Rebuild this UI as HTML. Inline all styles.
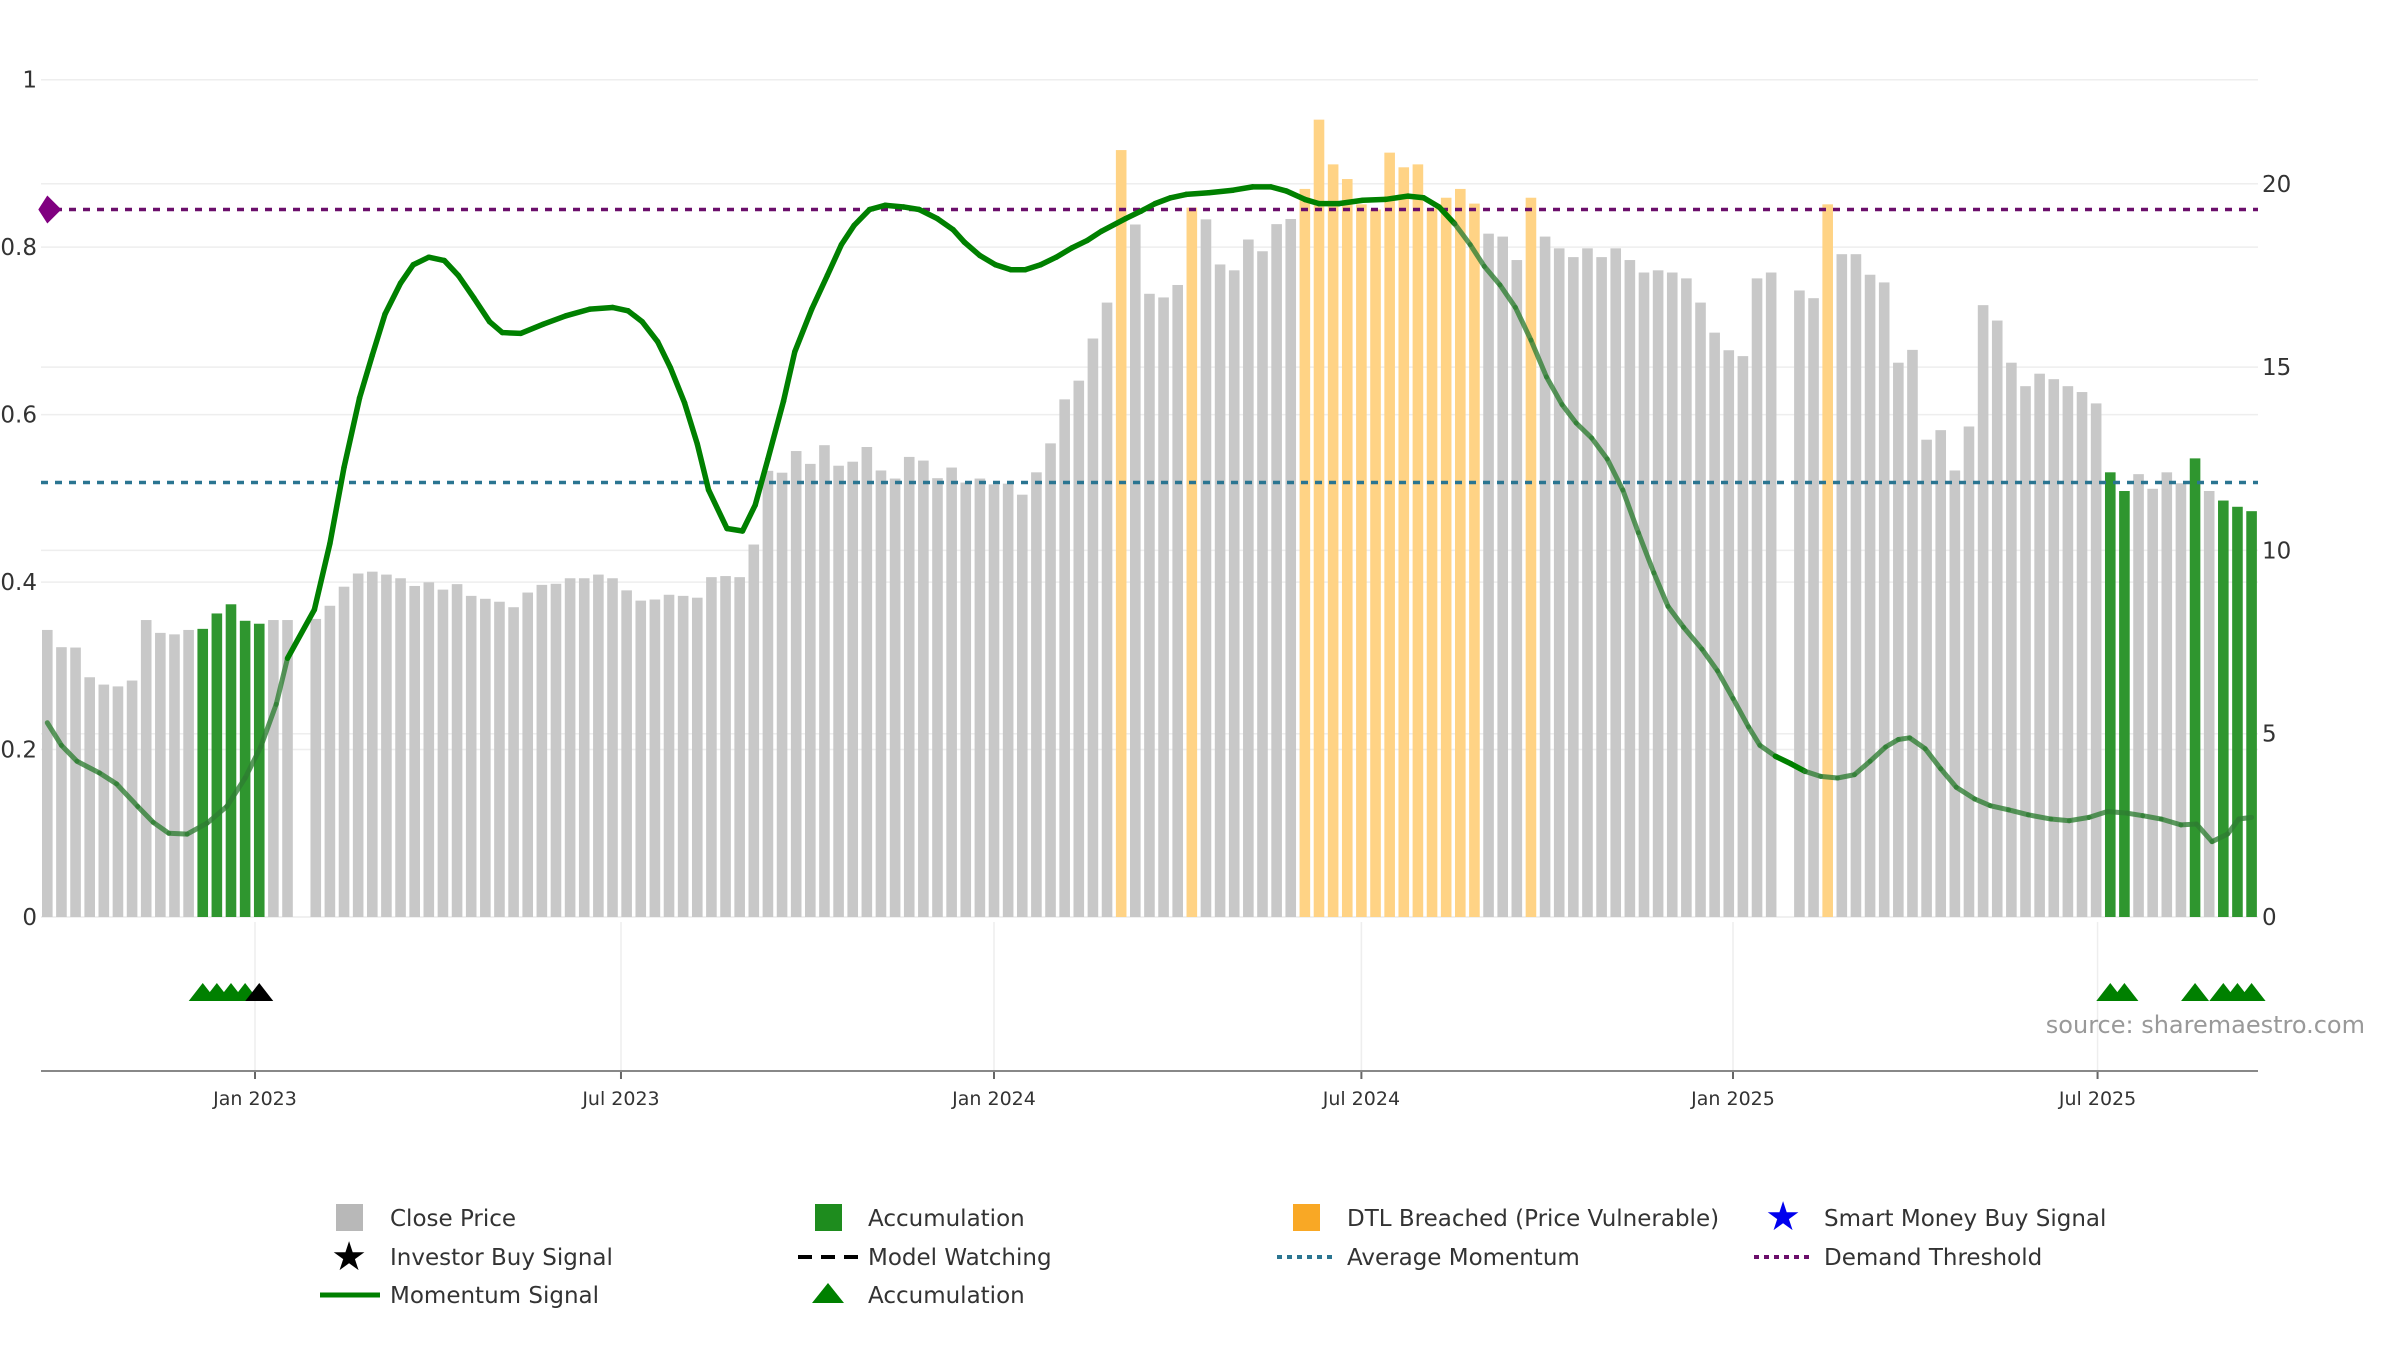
<!DOCTYPE html>
<html><head><meta charset="utf-8"><style>
html,body{margin:0;padding:0;background:#fff;}
svg{display:block;font-family:"DejaVu Sans","Liberation Sans",sans-serif;}
</style></head><body>
<svg id="chart" width="2400" height="1350" viewBox="0 0 2400 1350" xmlns="http://www.w3.org/2000/svg"></svg>
<script>
// ---- data ----
const closePrice = [7.83,7.36,7.35,6.54,6.34,6.29,6.45,8.10,7.75,7.71,7.83,7.86,8.28,8.53,8.08,8.00,8.10,8.10,null,8.13,
8.49,9.01,9.37,9.42,9.34,9.24,9.03,9.13,8.93,9.08,8.76,8.68,8.60,8.45,8.85,9.06,9.09,9.24,9.24,9.34,
9.24,8.91,8.63,8.66,8.79,8.76,8.71,9.27,9.30,9.27,10.16,12.17,12.12,12.71,12.36,12.87,12.31,12.42,12.82,12.18,
11.96,12.55,12.45,11.97,12.26,11.85,11.96,11.80,11.82,11.52,12.13,12.92,14.12,14.63,15.78,16.76,20.92,18.89,17.0,16.9,
17.24,19.35,19.03,17.8,17.64,18.48,18.16,18.90,19.04,19.86,21.75,20.53,20.13,19.44,19.30,20.85,20.45,20.53,19.33,19.62,
19.86,19.46,18.64,18.56,17.92,19.62,18.56,18.24,18.0,18.24,18.0,18.24,17.92,17.58,17.64,17.58,17.42,16.76,15.94,15.46,
15.30,17.42,17.58,null,17.09,16.88,19.44,18.08,18.08,17.52,17.31,15.12,15.47,13.02,13.28,12.18,13.38,16.69,16.27,15.12,
14.48,14.82,14.67,14.48,14.32,14.01,12.13,11.62,12.08,11.68,12.13,11.83,12.51,11.62,11.36,11.19,11.07];
const accumulationWeeks = [11,12,13,14,15,146,147,152,154,155,156];
const dtlWeeks = [76,81,89,90,91,92,93,94,95,96,97,98,99,100,101,105,126];
const accTriangleWeeks = [11,12,13,14,146,147,152,154,155,156];
const investorBuyWeeks = [15];
const momWeek = [0,1.0,2.1,3.7,4.9,6.4,7.5,8.6,9.9,11.3,12.7,14.0,15.1,16.2,17.0,18.9,20.0,21.0,22.1,23.0,23.9,25.0,25.9,27.0,28.1,29.1,30.2,31.3,32.2,33.5,35.1,36.7,38.4,40.0,41.1,42.1,43.2,44.1,45.1,46.0,46.8,48.1,49.2,50.1,51.0,52.1,52.9,54.1,55.2,56.2,57.1,58.2,59.3,60.6,61.7,63.0,64.1,64.9,66.0,67.1,68.2,69.2,70.3,71.4,72.5,73.6,74.6,76.3,77.4,78.4,79.5,80.6,82.2,83.9,85.3,86.6,87.7,89.0,90.0,91.4,93.1,94.7,96.3,97.4,98.5,99.6,100.7,101.7,102.8,103.9,105.0,106.1,107.2,108.2,109.3,110.4,111.5,112.6,113.7,114.7,115.8,117.1,118.2,119.3,120.4,121.2,122.3,123.4,124.4,125.5,126.7,127.9,129.0,130.1,131.0,131.8,132.9,134.0,135.1,136.4,137.5,138.8,140.2,141.8,143.1,144.5,145.8,147.2,148.3,149.6,151.0,152.1,153.2,154.3,155.1,156.0];
const momVal = [0.232,0.205,0.186,0.172,0.159,0.132,0.113,0.100,0.099,0.112,0.132,0.166,0.203,0.254,0.309,0.367,0.446,0.537,0.620,0.671,0.720,0.757,0.779,0.788,0.784,0.766,0.739,0.711,0.698,0.697,0.708,0.718,0.726,0.728,0.724,0.711,0.687,0.656,0.614,0.565,0.510,0.464,0.461,0.492,0.547,0.616,0.675,0.726,0.766,0.803,0.826,0.845,0.850,0.848,0.845,0.834,0.821,0.806,0.790,0.779,0.773,0.773,0.779,0.788,0.799,0.808,0.819,0.834,0.843,0.852,0.859,0.863,0.865,0.868,0.872,0.872,0.867,0.857,0.852,0.852,0.856,0.857,0.861,0.859,0.848,0.828,0.803,0.777,0.755,0.728,0.689,0.645,0.612,0.590,0.572,0.547,0.510,0.459,0.411,0.371,0.346,0.320,0.294,0.261,0.227,0.205,0.192,0.183,0.174,0.168,0.166,0.170,0.186,0.203,0.212,0.214,0.201,0.177,0.155,0.141,0.133,0.128,0.122,0.117,0.115,0.119,0.126,0.124,0.121,0.117,0.110,0.111,0.090,0.099,0.117,0.119];
const demandThreshold = 0.845;
const avgMomentum = 0.519;
const leftTicks = [0,0.2,0.4,0.6,0.8,1];
const leftTickLabels = ["0","0.2","0.4","0.6","0.8","1"];
const rightTicks = [0,5,10,15,20];
const dateTickWeeks = [14.7,40.6,67.0,93.0,119.3,145.1];
const dateTickLabels = ["Jan 2023","Jul 2023","Jan 2024","Jul 2024","Jan 2025","Jul 2025"];

// ---- axes ----
const NS="http://www.w3.org/2000/svg";
const svg=document.getElementById('chart');
const PL=41, PR=2258, Y0=917;
const x=w=>47.3+w*14.13;
const yL=v=>Y0-v*837.3;
const yR=p=>Y0-p*36.66;
function mk(tag,attrs,parent){const e=document.createElementNS(NS,tag);for(const k in attrs)e.setAttribute(k,attrs[k]);(parent||svg).appendChild(e);return e;}

// gridlines
leftTicks.forEach((t,i)=>{
  const g=mk('line',{x1:PL,x2:PR,y1:yL(t),y2:yL(t),stroke:'#eeeeee','stroke-width':1.5});
  
  
  const tx=mk('text',{x:37,y:yL(t)+8,'text-anchor':'end','font-size':23,fill:'#333'});
  tx.textContent=leftTickLabels[i];
  
  
});
rightTicks.forEach(t=>{
  const g=mk('line',{x1:PL,x2:PR,y1:yR(t),y2:yR(t),stroke:'#eeeeee','stroke-width':1.5});
  
  
  const tx=mk('text',{x:2262,y:yR(t)+8,'text-anchor':'start','font-size':23,fill:'#333'});
  tx.textContent=String(t);
  
  
});

// bars
closePrice.forEach((p,i)=>{
  if(p===null)return;
  let c='#c8c8c8';
  if(accumulationWeeks.includes(i))c='#2f962f';
  else if(dtlWeeks.includes(i))c='#ffd385';
  const r=mk('rect',{x:x(i)-5.3,y:yR(p),width:10.6,height:Y0-yR(p),fill:c});
  
  
});

// reference lines
const dl=mk('line',{x1:PL,x2:PR,y1:yL(demandThreshold),y2:yL(demandThreshold),stroke:'#6b0f6b','stroke-width':3.5,'stroke-dasharray':'7,7'});


const al=mk('line',{x1:PL,x2:PR,y1:yL(avgMomentum),y2:yL(avgMomentum),stroke:'#2a7591','stroke-width':3.5,'stroke-dasharray':'7,7'});


const dm=mk('polygon',{points:`${x(0)-9},${yL(demandThreshold)} ${x(0)},${yL(demandThreshold)-14} ${x(0)+14},${yL(demandThreshold)} ${x(0)},${yL(demandThreshold)+14}`,fill:'#800080'});



// momentum line, segmented by style
function strong(w){return (w>=17&&w<=100)||(w>=122&&w<=124.5);}
for(let i=0;i<momWeek.length-1;i++){
  const s=strong((momWeek[i]+momWeek[i+1])/2);
  const l=mk('line',{x1:x(momWeek[i]),y1:yL(momVal[i]),x2:x(momWeek[i+1]),y2:yL(momVal[i+1]),
    stroke:s?'#008000':'#2e7d32','stroke-width':s?5.5:5,'stroke-opacity':s?1:0.78,'stroke-linecap':'round'});
  
  
}

// lower panel
dateTickWeeks.forEach((w,i)=>{
  const g=mk('line',{x1:x(w),x2:x(w),y1:922,y2:1071,stroke:'#eeeeee','stroke-width':1.5});
  
  
  const t=mk('line',{x1:x(w),x2:x(w),y1:1071,y2:1079,stroke:'#666','stroke-width':2});
  
  
  const tx=mk('text',{x:x(w),y:1105,'text-anchor':'middle','font-size':19,fill:'#333'});
  tx.textContent=dateTickLabels[i];
  
  
});
const ax=mk('line',{x1:PL,x2:PR,y1:1071,y2:1071,stroke:'#888','stroke-width':2});


function tri(w,c,name){
  const cx=x(w),cy=1001;
  const t=mk('polygon',{points:`${cx-14},${cy} ${cx},${cy-18} ${cx+14},${cy}`,fill:c});
  
  
}
accTriangleWeeks.forEach(w=>tri(w,'#008000','accumulation-triangle'));
investorBuyWeeks.forEach(w=>tri(w,'#000000','investor-buy-marker'));
</script>
<svg style="position:absolute;left:0;top:0" width="2400" height="1350" xmlns="http://www.w3.org/2000/svg" font-family="DejaVu Sans, Liberation Sans, sans-serif">
  <text x="2365" y="1033" text-anchor="end" font-size="24" fill="#999">source: sharemaestro.com</text>
  <g font-size="23" fill="#333">
    <g><rect x="336" y="1204" width="27" height="27" fill="#b8b8b8"/><text x="390" y="1226">Close Price</text></g>
    <g><rect x="815" y="1204" width="27" height="27" fill="#1e8c1e"/><text x="868" y="1226">Accumulation</text></g>
    <g><rect x="1293" y="1204" width="27" height="27" fill="#f9a825"/><text x="1347" y="1226">DTL Breached (Price Vulnerable)</text></g>
    <g><text x="1783" y="1230" font-size="40" fill="#0000ee" text-anchor="middle">★</text><text x="1824" y="1226">Smart Money Buy Signal</text></g>
    <g><text x="349" y="1270" font-size="40" fill="#000" text-anchor="middle">★</text><text x="390" y="1265">Investor Buy Signal</text></g>
    <g><line x1="798" y1="1257" x2="858" y2="1257" stroke="#000" stroke-width="4" stroke-dasharray="14,9"/><text x="868" y="1265">Model Watching</text></g>
    <g><line x1="1277" y1="1257" x2="1337" y2="1257" stroke="#2a7591" stroke-width="4" stroke-dasharray="5,5"/><text x="1347" y="1265">Average Momentum</text></g>
    <g><line x1="1754" y1="1257" x2="1814" y2="1257" stroke="#6b0f6b" stroke-width="4" stroke-dasharray="5,5"/><text x="1824" y="1265">Demand Threshold</text></g>
    <g><line x1="320" y1="1295" x2="380" y2="1295" stroke="#008000" stroke-width="5"/><text x="390" y="1303">Momentum Signal</text></g>
    <g><polygon points="812,1303 828,1283 844,1303" fill="#008000"/><text x="868" y="1303">Accumulation</text></g>
  </g>
</svg>
</body></html>
